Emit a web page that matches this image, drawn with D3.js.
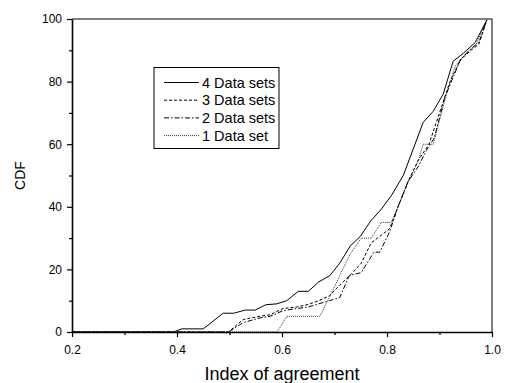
<!DOCTYPE html>
<html>
<head>
<meta charset="utf-8">
<script src="https://cdn.jsdelivr.net/npm/d3@7"></script>
<style>
body { margin: 0; background: #fff; }
text { font-family: "Liberation Sans", Arial, sans-serif; fill: #000; }
</style>
</head>
<body>
<svg id="chart" width="507" height="383"></svg>
<script>
// values
const idx_4 = [0.2, 0.393, 0.409, 0.45, 0.488, 0.508, 0.53, 0.549, 0.569, 0.59, 0.609, 0.631, 0.65, 0.67, 0.691, 0.71, 0.73, 0.749, 0.769, 0.788, 0.808, 0.831, 0.85, 0.869, 0.888, 0.907, 0.926, 0.945, 0.968, 0.991]
const cdf_4 = [0, 0, 1, 1, 6, 6, 7, 7, 8.7, 9, 10, 13, 13, 16, 18, 22, 27.5, 30.5, 35.5, 39, 43.5, 50, 58.5, 67, 70.5, 76, 86.5, 89, 92.5, 100]

const idx_3 = [0.2, 0.498, 0.526, 0.558, 0.577, 0.602, 0.628, 0.65, 0.67, 0.69, 0.71, 0.732, 0.751, 0.77, 0.79, 0.805, 0.821, 0.84, 0.86, 0.88, 0.9, 0.92, 0.94, 0.96, 0.975, 0.991]
const cdf_3 = [0, 0, 4, 5, 5.5, 7.5, 8, 8.8, 10, 11.5, 15, 18.5, 22, 28.5, 31, 33, 40, 48, 55, 60, 70, 80, 87, 90, 92, 100]

const idx_2 = [0.2, 0.498, 0.526, 0.558, 0.577, 0.602, 0.628, 0.65, 0.67, 0.69, 0.71, 0.728, 0.751, 0.775, 0.786, 0.805, 0.821, 0.84, 0.86, 0.875, 0.89, 0.91, 0.94, 0.96, 0.975, 0.991]
const cdf_2 = [0, 0, 3, 4.5, 5, 6.8, 7.5, 8, 9, 10, 11, 18, 19, 25.5, 25.5, 32, 40, 48, 53, 58, 62, 75, 87, 90.5, 92.5, 100]

const idx_1 = [0.2, 0.591, 0.609, 0.672, 0.69, 0.71, 0.73, 0.751, 0.77, 0.789, 0.808, 0.821, 0.84, 0.86, 0.869, 0.888, 0.91, 0.93, 0.95, 0.97, 0.991]
const cdf_1 = [0, 0, 5, 5, 11, 18, 25, 30, 30, 35, 35, 40, 48, 55, 60, 60, 74, 85, 89, 92, 100]

const series_names = ["4 Data sets", "3 Data sets", "2 Data sets", "1 Data set"]
const x_ticks = [0.2, 0.4, 0.6, 0.8, 1.0]
const x_minor = [0.3, 0.5, 0.7, 0.9]
const y_ticks = [0, 20, 40, 60, 80, 100]
const y_minor = [10, 30, 50, 70, 90]

const plot_left = 72, plot_right = 492, plot_top = 19, plot_bottom = 332

const svg = d3.select("#chart")

const x = d3.scaleLinear().domain([0.2, 1.0]).range([plot_left, plot_right])
const y = d3.scaleLinear().domain([0, 100]).range([plot_bottom, plot_top])

const dashes = ["none", "3,2", "5,2,1.5,2", "1,1"]
const colours = ["#000", "#000", "#000", "#333"]

const series = [
	d3.zip(idx_4, cdf_4),
	d3.zip(idx_3, cdf_3),
	d3.zip(idx_2, cdf_2),
	d3.zip(idx_1, cdf_1)
]

const line = d3.line().x(d => x(d[0])).y(d => y(d[1]))

// curves, last series drawn first so the solid one sits on top
for (let i = series.length - 1; i >= 0; i--) {
	svg.append("path")
		.datum(series[i])
		.attr("d", line)
		.attr("fill", "none")
		.attr("stroke", colours[i])
		.attr("stroke-width", 1)
		.attr("stroke-dasharray", dashes[i])
}

// frame
svg.append("line")
	.attr("x1", plot_left).attr("x2", plot_right)
	.attr("y1", plot_top).attr("y2", plot_top)
	.attr("stroke", "#808080").attr("stroke-width", 2)
svg.append("line")
	.attr("x1", plot_right).attr("x2", plot_right)
	.attr("y1", plot_top).attr("y2", plot_bottom)
	.attr("stroke", "#000").attr("stroke-width", 1)

// x axis
const x_axis = svg.append("g")
	.attr("transform", "translate(0," + plot_bottom + ")")
	.call(d3.axisBottom(x).tickValues(x_ticks).tickFormat(d3.format(".1f")).tickSize(5).tickSizeOuter(0).tickPadding(8))
x_axis.select(".domain").attr("stroke-width", 1.6)
x_axis.selectAll(".tick line").attr("stroke-width", 1.2)
x_axis.selectAll("text").attr("font-size", 12).attr("font-family", "Liberation Sans, Arial, sans-serif")
svg.append("g")
	.attr("transform", "translate(0," + plot_bottom + ")")
	.call(d3.axisBottom(x).tickValues(x_minor).tickSize(3).tickFormat(""))
	.call(g => g.select(".domain").remove())
	.selectAll(".tick line").attr("stroke-width", 1.2)

// y axis
const y_axis = svg.append("g")
	.attr("transform", "translate(" + plot_left + ",0)")
	.call(d3.axisLeft(y).tickValues(y_ticks).tickSize(5).tickSizeOuter(0).tickPadding(5))
y_axis.select(".domain").attr("stroke-width", 1.6)
y_axis.selectAll(".tick line").attr("stroke-width", 1.2)
y_axis.selectAll("text").attr("font-size", 12).attr("font-family", "Liberation Sans, Arial, sans-serif")
svg.append("g")
	.attr("transform", "translate(" + plot_left + ",0)")
	.call(d3.axisLeft(y).tickValues(y_minor).tickSize(3).tickFormat(""))
	.call(g => g.select(".domain").remove())
	.selectAll(".tick line").attr("stroke-width", 1.2)

// axis titles
svg.append("text")
	.text("Index of agreement")
	.attr("x", (plot_left + plot_right) / 2)
	.attr("y", 380)
	.attr("text-anchor", "middle")
	.attr("font-size", 18)

svg.append("text")
	.text("CDF")
	.attr("transform", "translate(25," + ((plot_top + plot_bottom) / 2) + ") rotate(-90)")
	.attr("text-anchor", "middle")
	.attr("font-size", 14)

// legend
const legend = svg.append("g").classed("legend", true)
legend.append("rect")
	.attr("x", 154).attr("y", 67.5)
	.attr("width", 125).attr("height", 81)
	.attr("fill", "#fff").attr("stroke", "#000").attr("stroke-width", 1)

series_names.forEach((name, i) => {
	const row_y = 82.5 + i * 17.7
	legend.append("line")
		.attr("x1", 164).attr("x2", 199)
		.attr("y1", row_y).attr("y2", row_y)
		.attr("stroke", colours[i])
		.attr("stroke-width", 1)
		.attr("stroke-dasharray", dashes[i])
	legend.append("text")
		.text(name)
		.attr("x", 202)
		.attr("y", row_y + 5)
		.attr("font-size", 14.5)
})
</script>
</body>
</html>
